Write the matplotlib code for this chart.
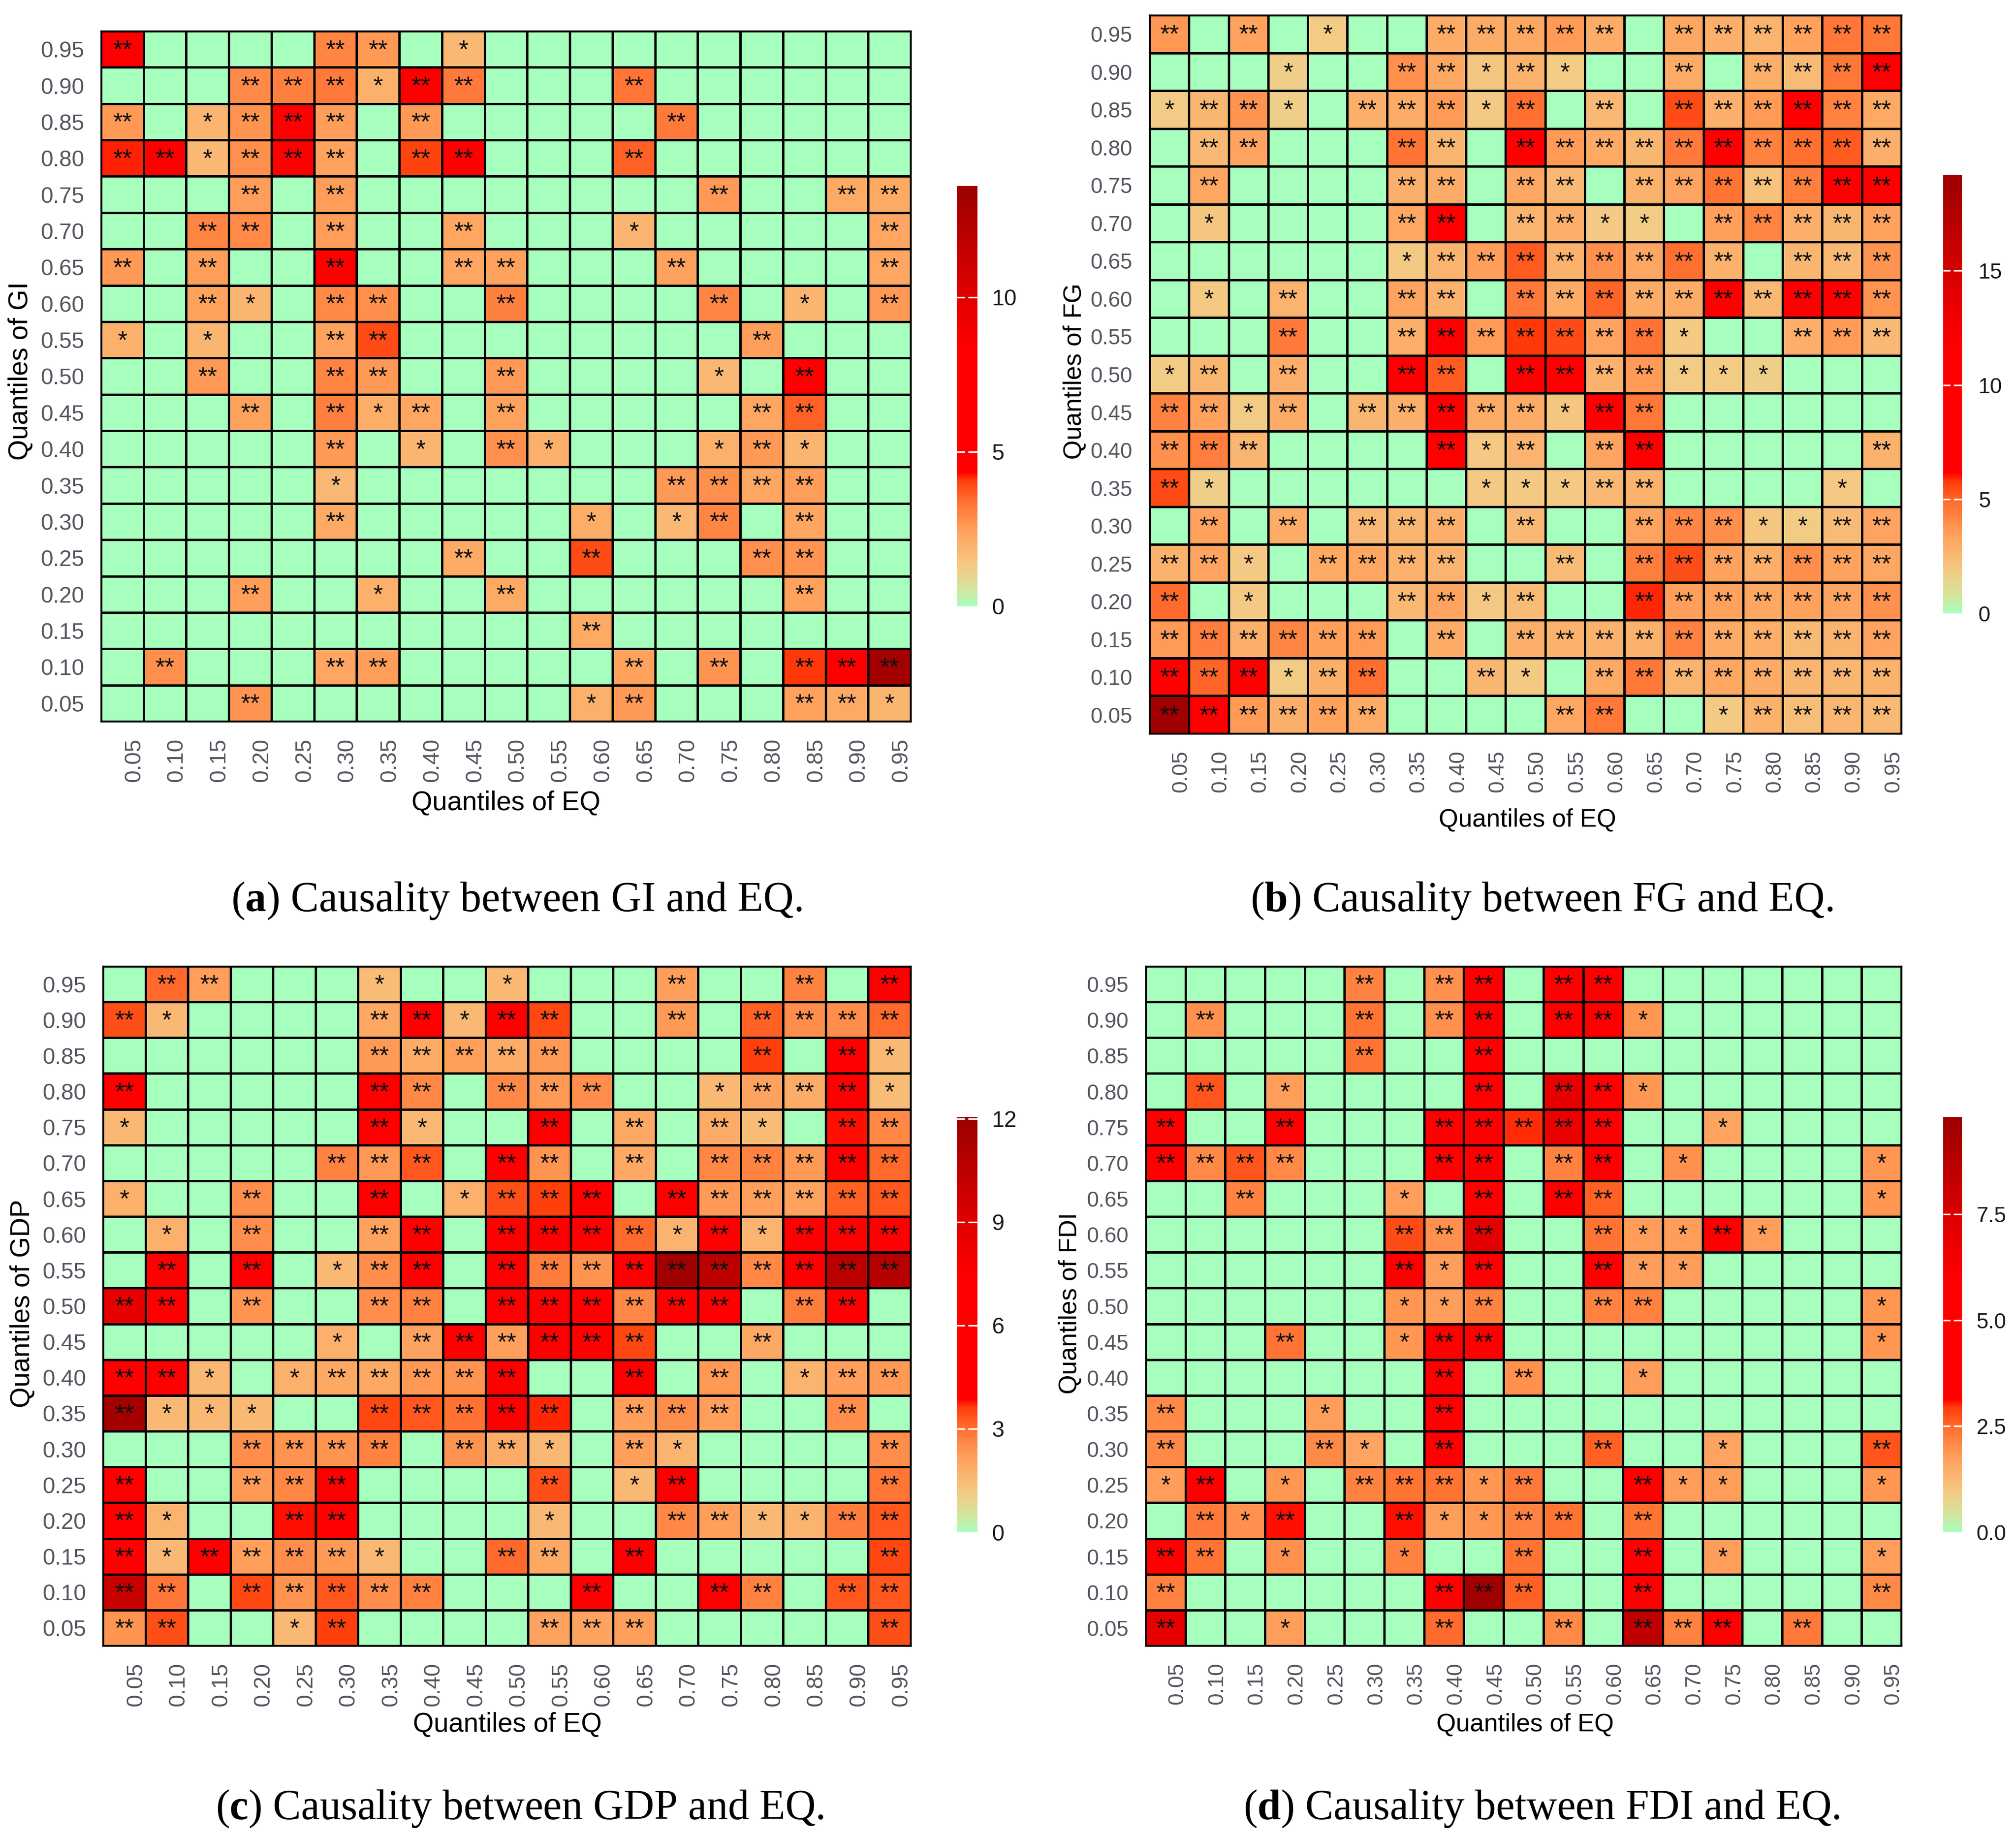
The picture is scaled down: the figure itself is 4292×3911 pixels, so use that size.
import numpy as np
import matplotlib
matplotlib.use("Agg")
import matplotlib.pyplot as plt
from matplotlib.colors import LinearSegmentedColormap
from matplotlib.transforms import ScaledTranslation

plt.rcParams['font.family'] = ['Liberation Sans', 'DejaVu Sans']
plt.rcParams['mathtext.fontset'] = 'custom'
plt.rcParams['mathtext.bf'] = 'Liberation Serif:bold'
plt.rcParams['mathtext.rm'] = 'Liberation Serif'

W, H = 4292, 3911

#quantiles in percent, EQ runs left to right and the other variable top to bottom
eq_q = list(range(5, 100, 5))
row_q = eq_q[::-1]

#test statistic per cell, rows 0.95 -> 0.05, columns 0.05 -> 0.95, 0 = not significant
gi = [
    [4.7,0,0,0,0,3.0,2.6,0,1.8,0,0,0,0,0,0,0,0,0,0],
    [0,0,0,2.9,3.1,3.2,2.0,4.6,3.2,0,0,0,3.3,0,0,0,0,0,0],
    [2.6,0,1.9,2.7,4.5,2.5,0,2.6,0,0,0,0,0,3.2,0,0,0,0,0],
    [4.2,4.7,1.8,2.8,4.5,2.4,0,4.0,5.0,0,0,0,3.6,0,0,0,0,0,0],
    [0,0,0,2.5,0,2.5,0,0,0,0,0,0,0,0,2.6,0,0,2.2,2.2],
    [0,0,3.0,2.9,0,2.5,0,0,2.3,0,0,0,1.9,0,0,0,0,0,2.3],
    [2.6,0,2.5,0,0,4.8,0,0,2.3,2.4,0,0,0,2.4,0,0,0,0,2.3],
    [0,0,2.4,1.9,0,2.9,2.8,0,0,3.1,0,0,0,0,3.0,0,1.9,0,2.6],
    [2.0,0,1.9,0,0,2.4,3.9,0,0,0,0,0,0,0,0,2.5,0,0,0],
    [0,0,2.6,0,0,3.0,2.6,0,0,2.6,0,0,0,0,1.8,0,4.7,0,0],
    [0,0,0,2.4,0,3.1,2.1,2.3,0,2.4,0,0,0,0,0,2.3,3.6,0,0],
    [0,0,0,0,0,2.6,0,1.9,0,2.8,2.0,0,0,0,2.0,2.6,1.9,0,0],
    [0,0,0,0,0,1.8,0,0,0,0,0,0,0,2.6,2.8,2.3,2.5,0,0],
    [0,0,0,0,0,2.2,0,0,0,0,0,2.1,0,1.8,3.0,0,2.3,0,0],
    [0,0,0,0,0,0,0,0,2.2,0,0,3.9,0,0,0,2.8,2.7,0,0],
    [0,0,0,2.5,0,0,2.0,0,0,2.2,0,0,0,0,0,0,2.4,0,0],
    [0,0,0,0,0,0,0,0,0,0,0,2.2,0,0,0,0,0,0,0],
    [0,2.8,0,0,0,2.3,2.5,0,0,0,0,0,2.4,0,2.7,0,4.1,4.8,13.2],
    [0,0,0,2.7,0,0,0,0,0,0,0,2.0,2.6,0,0,0,2.4,2.2,1.9],
]
fg = [
    [3.7,0,3.4,0,1.8,0,0,3.0,3.0,3.2,3.6,3.0,0,3.2,2.9,2.7,3.4,4.6,4.6],
    [0,0,0,1.7,0,0,3.9,3.2,2.0,2.8,1.8,0,0,3.0,0,2.9,2.4,4.6,6.8],
    [1.8,2.6,3.8,1.7,0,2.9,3.0,3.6,1.9,4.8,0,2.5,0,5.5,2.9,3.6,6.7,4.3,3.1],
    [0,2.5,3.3,0,0,0,4.7,2.6,0,6.6,3.6,3.1,2.6,4.5,6.6,4.3,4.8,5.2,2.9],
    [0,3.2,0,0,0,0,2.9,3.0,0,3.2,2.5,0,2.8,3.3,4.7,2.1,4.4,7.0,6.9],
    [0,2.0,0,0,0,0,3.2,6.8,0,2.7,2.9,1.9,1.8,0,3.5,4.2,2.9,2.6,3.4],
    [0,0,0,0,0,0,1.9,2.7,3.5,5.2,2.8,3.9,3.2,4.8,2.8,0,2.6,2.5,3.8],
    [0,1.9,0,2.7,0,0,3.3,2.8,0,4.5,3.0,5.0,3.0,3.0,6.8,2.5,6.6,6.8,3.8],
    [0,0,0,4.5,0,0,2.9,6.6,3.6,5.8,5.5,3.3,4.7,1.9,0,0,2.9,3.6,2.5],
    [1.8,2.6,0,2.9,0,0,6.6,5.2,0,6.2,6.6,2.8,3.6,1.8,1.8,1.7,0,0,0],
    [4.3,3.4,1.8,3.0,0,2.6,2.9,6.7,3.0,3.0,2.0,6.5,4.6,0,0,0,0,0,0],
    [3.9,4.4,2.6,0,0,0,0,6.6,1.9,2.7,0,3.3,6.6,0,0,0,0,0,2.8],
    [5.5,1.7,0,0,0,0,0,0,1.9,1.9,1.9,2.5,2.8,0,0,0,0,1.9,0],
    [0,3.4,0,3.0,0,2.5,2.6,2.9,0,2.5,0,0,3.3,4.2,4.0,2.0,1.8,2.4,3.3],
    [2.8,3.3,1.9,0,3.1,3.2,2.8,2.7,0,0,2.4,0,4.4,5.4,3.4,2.9,4.0,3.4,3.2],
    [4.9,0,1.9,0,0,0,2.5,3.3,1.9,2.4,0,0,5.9,3.5,3.4,3.2,3.4,3.3,3.9],
    [3.6,4.4,2.9,4.2,3.5,3.6,0,3.0,0,2.9,2.8,2.8,2.8,4.3,3.0,2.9,2.4,2.7,3.3],
    [6.9,5.0,6.8,1.8,2.9,4.8,0,0,2.6,1.9,0,3.1,4.6,2.7,3.2,3.0,2.6,2.6,2.8],
    [18.8,7.0,3.6,2.9,3.4,3.0,0,0,0,0,3.2,4.6,0,0,1.9,2.8,2.3,2.6,2.5],
]
gdp = [
    [0,3.1,2.2,0,0,0,1.5,0,0,1.6,0,0,0,2.2,0,0,2.7,0,4.6],
    [3.4,1.6,0,0,0,0,2.0,4.7,1.6,4.6,3.5,0,0,2.3,0,3.2,2.5,2.5,3.1],
    [0,0,0,0,0,0,2.3,1.9,2.2,1.9,2.3,0,0,0,0,3.6,0,4.7,1.6],
    [5.8,0,0,0,0,0,4.2,2.6,0,2.6,2.3,2.5,0,0,1.6,2.1,1.9,4.7,1.5],
    [1.6,0,0,0,0,0,4.0,1.6,0,0,4.3,0,2.0,0,1.9,1.5,0,3.8,2.6],
    [0,0,0,0,0,2.7,2.3,3.3,0,4.2,2.4,0,2.0,0,2.6,2.7,2.3,4.4,3.1],
    [1.8,0,0,2.5,0,0,4.5,0,1.8,3.4,3.6,4.6,0,4.4,2.3,2.2,2.1,3.2,3.3],
    [0,1.8,0,2.5,0,0,2.1,4.6,0,4.7,4.6,4.6,3.1,1.7,4.7,1.7,4.6,4.8,4.9],
    [0,4.7,0,4.8,0,1.6,2.5,4.7,0,4.7,2.8,2.4,4.6,11.8,10.6,2.6,4.7,10.6,10.8],
    [8.6,4.8,0,2.4,0,0,2.5,2.7,0,4.7,4.7,4.7,2.6,4.6,4.6,0,2.8,4.7,0],
    [0,0,0,0,0,1.8,0,2.1,4.6,2.2,4.7,4.7,3.5,0,0,2.0,0,0,0],
    [4.7,4.8,1.6,0,1.8,2.0,2.0,2.3,2.4,4.7,0,0,4.6,0,2.3,0,1.7,2.2,2.3],
    [11.6,1.6,1.6,1.6,0,0,3.5,3.3,3.0,4.5,3.7,0,2.2,2.5,2.2,0,0,2.5,0],
    [0,0,0,2.5,2.4,2.4,2.7,0,2.4,1.9,1.6,0,2.2,1.7,0,0,0,0,2.5],
    [4.6,0,0,2.3,2.6,3.9,0,0,0,0,3.4,0,1.6,4.3,0,0,0,0,2.9],
    [4.5,1.7,0,0,3.8,4.3,0,0,0,0,1.6,0,0,2.6,2.2,1.6,1.7,2.8,3.3],
    [4.7,1.6,5.6,2.2,2.5,2.3,1.6,0,0,3.1,2.0,0,4.7,0,0,0,0,0,3.5],
    [10.0,2.9,0,3.5,2.4,3.3,2.5,2.7,0,0,0,4.7,0,0,4.7,2.7,0,3.3,3.3],
    [2.4,3.4,0,0,1.6,3.6,0,0,0,0,2.1,2.1,2.2,0,0,0,0,0,3.4],
]
fdi = [
    [0,0,0,0,0,2.2,0,2.0,4.2,0,4.2,4.4,0,0,0,0,0,0,0],
    [0,2.0,0,0,0,2.4,0,2.0,4.3,0,4.3,5.2,1.9,0,0,0,0,0,0],
    [0,0,0,0,0,2.4,0,0,4.2,0,0,0,0,0,0,0,0,0,0],
    [0,2.7,0,1.8,0,0,0,0,4.3,0,7.0,5.0,1.9,0,0,0,0,0,0],
    [4.2,0,0,4.0,0,0,0,4.3,4.5,3.0,6.8,5.0,0,0,1.7,0,0,0,0],
    [4.3,2.1,2.7,2.1,0,0,0,4.3,6.0,0,2.2,5.0,0,2.0,0,0,0,0,1.9],
    [0,0,2.2,0,0,0,1.8,0,4.4,0,4.4,2.6,0,0,0,0,0,0,1.9],
    [0,0,0,0,0,0,2.8,2.0,7.2,0,0,2.4,1.8,1.8,4.1,1.8,0,0,0],
    [0,0,0,0,0,0,3.3,1.8,5.0,0,0,3.4,1.8,1.8,0,0,0,0,0],
    [0,0,0,0,0,0,1.9,1.8,2.2,0,0,2.2,2.2,0,0,0,0,0,1.9],
    [0,0,0,2.4,0,0,1.9,4.2,4.2,0,0,0,0,0,0,0,0,0,1.9],
    [0,0,0,0,0,0,0,4.1,0,2.0,0,0,1.8,0,0,0,0,0,0],
    [2.1,0,0,0,1.8,0,0,4.0,0,0,0,0,0,0,0,0,0,0,0],
    [2.1,0,0,0,2.1,1.7,0,4.1,0,0,0,2.6,0,0,1.7,0,0,0,2.7],
    [1.8,4.0,0,1.9,0,2.2,2.4,2.4,1.9,2.3,0,0,3.3,1.8,1.8,0,0,0,1.9],
    [0,2.3,2.0,3.1,0,0,3.1,1.8,1.9,2.2,2.4,0,2.4,0,0,0,0,0,0],
    [4.3,2.4,0,2.0,0,0,2.2,0,0,2.4,0,0,4.3,0,1.8,0,0,0,1.8],
    [2.2,0,0,0,0,0,0,4.3,9.6,2.6,0,0,4.4,0,0,0,0,0,2.1],
    [7.0,0,0,1.8,0,0,0,2.5,0,0,2.1,0,8.5,2.2,4.3,0,2.3,0,0],
]

#cells that only get one star (row, column), everything else nonzero gets **
one_gi = [(95,45),(90,35),(85,15),(80,15),(70,65),(60,20),(60,85),(55,5),(55,15),(50,75),
          (45,35),(40,40),(40,55),(40,75),(40,85),(35,30),(30,60),(30,70),(20,35),(5,60),(5,95)]
one_fg = [(95,25),(90,20),(90,45),(90,55),(85,5),(85,20),(85,45),(70,10),(70,60),(70,65),
          (65,35),(60,10),(55,70),(50,5),(50,70),(50,75),(50,80),(45,15),(45,55),(40,45),
          (35,10),(35,45),(35,50),(35,55),(35,90),(30,80),(30,85),(25,15),(20,15),(20,45),
          (10,20),(10,50),(5,75)]
one_gdp = [(95,35),(95,50),(90,10),(90,45),(85,95),(80,75),(80,95),(75,5),(75,40),(75,80),
           (65,5),(65,45),(60,10),(60,70),(60,80),(55,30),(45,30),(40,15),(40,25),(40,85),
           (35,10),(35,15),(35,20),(30,55),(30,70),(25,65),(20,10),(20,55),(20,80),(20,85),
           (15,10),(15,35),(5,25)]
one_fdi = [(90,65),(80,20),(80,65),(75,75),(70,70),(70,95),(65,35),(65,95),(60,65),(60,70),
           (60,80),(55,40),(55,65),(55,70),(50,35),(50,40),(50,95),(45,35),(45,95),(40,65),
           (35,25),(30,30),(30,75),(25,5),(25,20),(25,45),(25,70),(25,75),(25,95),(20,15),
           (20,40),(20,45),(15,20),(15,35),(15,75),(15,95),(5,20)]

names = ['GI', 'FG', 'GDP', 'FDI']
letters = ['a', 'b', 'c', 'd']
matrices = [gi, fg, gdp, fdi]
one_star = [one_gi, one_fg, one_gdp, one_fdi]
scale_max = [13.6, 19.2, 12.05, 9.8]
scale_ticks = [[0, 5, 10], [0, 5, 10, 15], [0, 3, 6, 9, 12], [0.0, 2.5, 5.0, 7.5]]
scale_labels = [['0', '5', '10'], ['0', '5', '10', '15'], ['0', '3', '6', '9', '12'],
                ['0.0', '2.5', '5.0', '7.5']]

#pixel boxes left, top, right, bottom
heat_box = [(215, 66, 1939, 1536), (2447, 32, 4048, 1562), (219, 2057, 1939, 3504), (2439, 2057, 4048, 3504)]
bar_box = [(2037, 396, 2081, 1291), (4137, 372, 4177, 1306), (2037, 2378, 2081, 3262), (4137, 2378, 4177, 3262)]
xlabel_pos = [(1077, 1710), (3252, 1745), (1080, 3672), (3247, 3672)]
ylabel_pos = [(44, 790), (2288, 790), (48, 2775), (2277, 2775)]
caption_pos = [(1100, 1918), (3282, 1918), (1107, 3851), (3282, 3851)]
tick_size = [34.5, 33, 34.5, 33]
label_size = [41, 38.5, 41, 38.5]
bar_pad = [22, 25, 22, 22]

stops = [(0.0, (166,255,188)), (0.04, (212,228,158)), (0.10, (245,200,130)), (0.18, (255,160,92)),
         (0.25, (255,112,48)), (0.30, (255,60,10)), (0.32, (255,0,0)), (0.60, (255,0,0)),
         (0.74, (225,0,0)), (1.0, (155,0,0))]
cmap = LinearSegmentedColormap.from_list('causal', [(p, np.array(c) / 255) for p, c in stops], N=512)

TICK_GREY = '#555560'
fig = plt.figure(figsize=(W / 100, H / 100), dpi=100, facecolor='white')


def px_axes(box):
    l, t, r, b = box
    return fig.add_axes([l / W, 1 - b / H, (r - l) / W, (b - t) / H])


for k, name in enumerate(names):
    ax = px_axes(heat_box[k])
    vals = np.array(matrices[k], dtype=float)
    mesh = ax.pcolormesh(np.arange(20), np.arange(20), vals, cmap=cmap, vmin=0, vmax=scale_max[k],
                         edgecolors='black', linewidth=2.3)
    ax.set_xlim(0, 19)
    ax.set_ylim(19, 0)
    singles = set(one_star[k])
    for i, rq in enumerate(row_q):
        for j, cq in enumerate(eq_q):
            if vals[i, j] > 0:
                mark = '*' if (rq, cq) in singles else '**'
                ax.text(j + 0.5, i + 0.54, mark, ha='center', va='center', fontsize=38, color='#111111')

    ax.set_xticks(np.arange(19) + 0.5)
    ax.set_xticklabels(['%.2f' % (q / 100) for q in eq_q], rotation=90, fontsize=tick_size[k], color=TICK_GREY)
    ax.set_yticks(np.arange(19) + 0.5)
    ax.set_yticklabels(['%.2f' % (q / 100) for q in row_q], fontsize=tick_size[k], color=TICK_GREY)
    ax.tick_params(axis='both', length=0, pad=26)
    shift = ScaledTranslation(25 / 100, 0, fig.dpi_scale_trans)
    for lab in ax.get_xticklabels():
        lab.set_transform(lab.get_transform() + shift)
    for s in ax.spines.values():
        s.set_linewidth(2.4)

    x, y = xlabel_pos[k]
    fig.text(x / W, 1 - y / H, 'Quantiles of EQ', ha='center', va='center', fontsize=label_size[k], color='black')
    x, y = ylabel_pos[k]
    fig.text(x / W, 1 - y / H, 'Quantiles of ' + name, ha='center', va='center', rotation=90, fontsize=label_size[k],
             color='black')
    x, y = caption_pos[k]
    fig.text(x / W, 1 - y / H, r'($\mathbf{%s}$) Causality between %s and EQ.' % (letters[k], name),
             ha='center', va='center', fontsize=64.5, family='Liberation Serif', color='black')

    #colour bar with the white ggplot style ticks
    cax = px_axes(bar_box[k])
    cb = fig.colorbar(mesh, cax=cax)
    cb.outline.set_visible(False)
    cb.set_ticks(scale_ticks[k])
    cb.set_ticklabels(scale_labels[k])
    cax.tick_params(axis='y', length=0, pad=bar_pad[k], labelsize=tick_size[k], labelcolor='#1a1a1a')
    for t in scale_ticks[k][1:]:
        if t < scale_max[k]:
            cax.hlines(t, 0, 0.38, transform=cax.get_yaxis_transform(), colors='white', linewidth=2.4)
            cax.hlines(t, 0.55, 1, transform=cax.get_yaxis_transform(), colors='white', linewidth=2.4)

fig.savefig('out.png', dpi=100, facecolor='white')
